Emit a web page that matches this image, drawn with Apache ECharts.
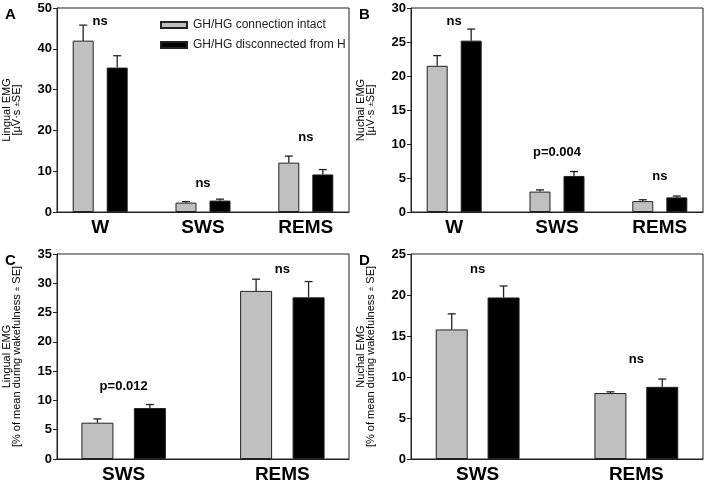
<!DOCTYPE html>
<html>
<head>
<meta charset="utf-8">
<script src="https://cdn.jsdelivr.net/npm/echarts@6/dist/echarts.min.js"></script>
<style>html,body{margin:0;padding:0;background:#fff}#c{width:708px;height:485px}</style>
</head>
<body>
<div id="c"></div>
<script>
// ---- data ----
const seriesNames = ['GH/HG connection intact', 'GH/HG disconnected from H'];
const catsAB = ['W', 'SWS', 'REMS'];
const catsCD = ['SWS', 'REMS'];

const intactA = [42.0, 2.3, 12.1];
const intactAErr = [3.8, 0.25, 1.6];
const discA = [35.4, 2.8, 9.2];
const discAErr = [2.9, 0.35, 1.2];
const annTextA = ['ns', 'ns', 'ns'];
const annYA = [46.7, 6.9, 18.3];

const intactB = [21.5, 3.0, 1.6];
const intactBErr = [1.5, 0.25, 0.2];
const discB = [25.2, 5.3, 2.15];
const discBErr = [1.7, 0.65, 0.2];
const annTextB = ['ns', 'p=0.004', 'ns'];
const annYB = [28.0, 8.8, 5.3];

const intactC = [6.2, 28.7];
const intactCErr = [0.65, 2.0];
const discC = [8.7, 27.6];
const discCErr = [0.6, 2.7];
const annTextC = ['p=0.012', 'ns'];
const annYC = [12.4, 32.4];

const intactD = [15.8, 8.04];
const intactDErr = [1.9, 0.15];
const discD = [19.7, 8.8];
const discDErr = [1.4, 0.95];
const annTextD = ['ns', 'ns'];
const annYD = [23.1, 12.1];

const yTicksA = {max: 50, interval: 10};
const yTicksB = {max: 30, interval: 5};
const yTicksC = {max: 35, interval: 5};
const yTicksD = {max: 25, interval: 5};

const unitAB = '[µV·s {s|±}SE]';
const unitCD = '[% of mean during wakefulness {s|±} SE]';

// ---- build ----
const grids = [], xAxes = [], yAxes = [], series = [], titles = [];
const PAD = 0.42;
const FONT = 'Liberation Sans';

function panel(i, letter, cats, vals1, err1, vals2, err2, annText, annY, yt, yName, pos, bw, gapPct) {
  grids.push(Object.assign({show: true, borderColor: '#222', borderWidth: 1, backgroundColor: 'transparent'}, pos));
  xAxes.push({
    gridIndex: i, type: 'value', min: -PAD, max: cats.length - 1 + PAD,
    axisLine: {show: true, onZero: false, lineStyle: {color: '#222', width: 1}},
    axisTick: {show: false},
    splitLine: {show: false},
    axisLabel: {
      customValues: cats.map((c, k) => k),
      formatter: v => cats[Math.round(v)],
      fontSize: 19, fontWeight: 'bold', color: '#000', margin: 6, fontFamily: FONT
    }
  });
  yAxes.push({
    gridIndex: i, type: 'value', min: 0, max: yt.max, interval: yt.interval,
    axisLine: {show: true, onZero: false, lineStyle: {color: '#222', width: 1}},
    axisTick: {show: true, inside: false, length: 4, lineStyle: {color: '#222'}},
    splitLine: {show: false},
    axisLabel: {fontSize: 13, fontWeight: 'bold', color: '#000', margin: 5, fontFamily: FONT},
    name: yName, nameLocation: 'middle', nameRotate: 90, nameGap: 35,
    nameTextStyle: {fontSize: 11, lineHeight: 10, color: '#000', fontFamily: FONT, align: 'center',
      rich: {s: {fontSize: 8, color: '#000', fontFamily: FONT}}}
  });
  const off = bw * (1 + gapPct / 100) / 2;
  const groups = [[vals1, err1, '#c0c0c0', -off], [vals2, err2, '#000000', off]];
  groups.forEach((g, s) => {
    series.push({
      name: seriesNames[s], type: 'bar', xAxisIndex: i, yAxisIndex: i,
      barWidth: bw, barGap: gapPct + '%',
      itemStyle: {color: g[2], borderColor: '#222', borderWidth: 1},
      data: cats.map((c, k) => [k, g[0][k]])
    });
    series.push({
      name: 'err' + i + s, type: 'custom', xAxisIndex: i, yAxisIndex: i, z: 3, silent: true,
      data: cats.map((c, k) => [k, g[0][k], g[1][k]]),
      renderItem: (params, api) => {
        const x = api.value(0), v = api.value(1), e = api.value(2);
        const p0 = api.coord([x, v]);
        const p1 = api.coord([x, v + e]);
        const cx = p0[0] + g[3];
        const st = {stroke: '#222', lineWidth: 1.3};
        return {type: 'group', children: [
          {type: 'line', shape: {x1: cx, y1: p0[1], x2: cx, y2: p1[1]}, style: st},
          {type: 'line', shape: {x1: cx - 4, y1: p1[1], x2: cx + 4, y2: p1[1]}, style: st}
        ]};
      }
    });
  });
  series.push({
    name: 'ann' + i, type: 'custom', xAxisIndex: i, yAxisIndex: i, z: 4, silent: true,
    data: cats.map((c, k) => [k, annY[k]]),
    renderItem: (params, api) => {
      const p = api.coord([api.value(0), api.value(1)]);
      return {type: 'text', x: p[0], y: p[1], style: {
        text: annText[params.dataIndex], fill: '#000', align: 'center', verticalAlign: 'middle',
        font: 'bold 13px "Liberation Sans"'}};
    }
  });
  titles.push({text: letter, left: pos.left - 52, top: pos.top - 1, padding: 0,
    textStyle: {fontSize: 15, fontWeight: 'bold', color: '#000', fontFamily: FONT}});
}

panel(0, 'A', catsAB, intactA, intactAErr, discA, discAErr, annTextA, annYA, yTicksA,
  'Lingual EMG\n' + unitAB, {left: 57, right: 359, top: 8, bottom: 273}, 21, 62);
panel(1, 'B', catsAB, intactB, intactBErr, discB, discBErr, annTextB, annYB, yTicksB,
  'Nuchal EMG\n' + unitAB, {left: 411, right: 5, top: 8, bottom: 273}, 21, 62);
panel(2, 'C', catsCD, intactC, intactCErr, discC, discCErr, annTextC, annYC, yTicksC,
  'Lingual EMG\n' + unitCD, {left: 57, right: 359, top: 254, bottom: 26}, 32, 64);
panel(3, 'D', catsCD, intactD, intactDErr, discD, discDErr, annTextD, annYD, yTicksD,
  'Nuchal EMG\n' + unitCD, {left: 411, right: 5, top: 254, bottom: 26}, 32, 62);

const chart = echarts.init(document.getElementById('c'), null, {renderer: 'canvas'});
chart.setOption({
  animation: false,
  backgroundColor: '#fff',
  title: titles,
  legend: {
    data: seriesNames, orient: 'vertical', left: 160, top: 19, padding: 0,
    itemWidth: 26, itemHeight: 6, itemGap: 8, icon: 'rect',
    textStyle: {fontSize: 12, color: '#222', fontFamily: FONT, padding: [0, 0, 0, 1]},
    selectedMode: false
  },
  grid: grids,
  xAxis: xAxes,
  yAxis: yAxes,
  series: series
});
</script>
</body>
</html>
